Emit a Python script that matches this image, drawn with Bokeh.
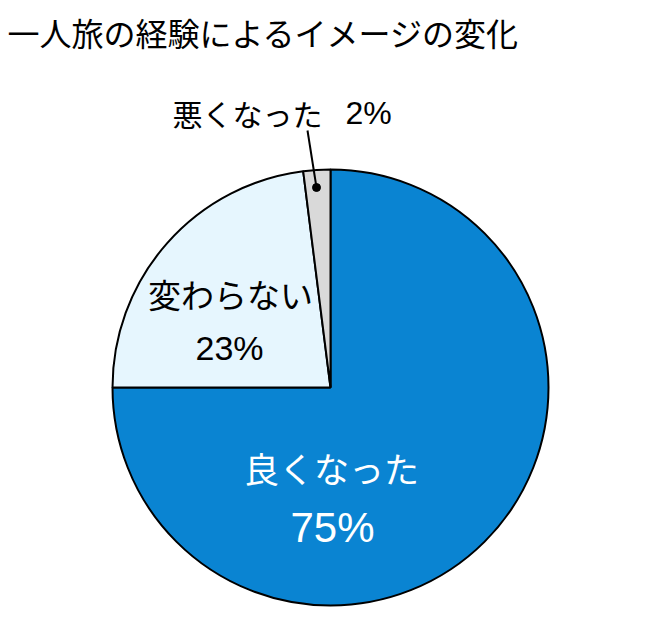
import math
from bokeh.plotting import figure
from bokeh.models import Range1d
from bokeh.core.properties import value
from bokeh.embed import file_html
from bokeh.resources import INLINE

title_text = "一人旅の経験によるイメージの変化"
categories = ["良くなった", "変わらない", "悪くなった"]
shares = [75, 23, 2]
pct_labels = ["75%", "23%", "2%"]
colors = ["#0A84D2", "#E6F6FE", "#D9D9D9"]

W, H = 649, 615
p = figure(width=W, height=H, output_backend="svg", toolbar_location=None,
           x_range=Range1d(0, W), y_range=Range1d(0, H), min_border=0)
p.axis.visible = False
p.grid.visible = False
p.outline_line_color = None
p.background_fill_color = "white"

cx, cy, r = 330, 228, 218
total = sum(shares)
start = math.pi / 2
starts, ends = [], []
for s in shares:
    end = start - s / total * 2 * math.pi
    starts.append(start)
    ends.append(end)
    start = end

p.wedge(x=[cx] * 3, y=[cy] * 3, radius=r, start_angle=starts, end_angle=ends,
        direction="clock", fill_color=colors, line_color="black", line_width=2)

jp = value("Noto Sans CJK JP")
lat = value("Liberation Sans")

# title
p.text(x=[7], y=[584], text=[title_text], text_font=jp, text_font_size="32px",
       text_align="left", text_baseline="middle", text_color="black")

# big slice
p.text(x=[331], y=[148], text=[categories[0]], text_font=jp, text_font_size="35px",
       text_align="center", text_baseline="middle", text_color="white")
p.text(x=[332], y=[88], text=[pct_labels[0]], text_font=lat, text_font_size="42px",
       text_align="center", text_baseline="middle", text_color="white")

# middle slice
p.text(x=[230], y=[322], text=[categories[1]], text_font=jp, text_font_size="33px",
       text_align="center", text_baseline="middle", text_color="black")
p.text(x=[229], y=[268], text=[pct_labels[1]], text_font=lat, text_font_size="34px",
       text_align="center", text_baseline="middle", text_color="black")

# small slice with leader
p.text(x=[172], y=[503], text=[categories[2]], text_font=jp, text_font_size="30px",
       text_align="left", text_baseline="middle", text_color="black")
p.text(x=[345], y=[503], text=[pct_labels[2]], text_font=lat, text_font_size="32px",
       text_align="left", text_baseline="middle", text_color="black")
p.line(x=[316, 307], y=[428, 485], line_color="black", line_width=2)
p.scatter(x=[316], y=[428], size=8, fill_color="black", line_color="black")

open("out.html", "w").write(file_html(p, INLINE))
